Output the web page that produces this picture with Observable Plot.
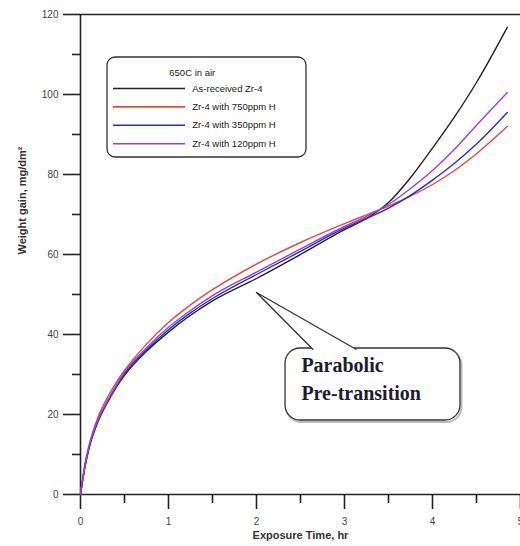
<!DOCTYPE html>
<html>
<head>
<meta charset="utf-8">
<script src="https://cdn.jsdelivr.net/npm/d3@7"></script>
<script src="https://cdn.jsdelivr.net/npm/@observablehq/plot@0.6"></script>
<style>
  html, body { margin: 0; padding: 0; background: #fff; }
  #chart svg { display: block; }
</style>
</head>
<body>
<div id="chart"></div>
<script>
// Exposure time (hr)
const time = [0, 0.05, 0.1, 0.2, 0.3, 0.4, 0.5, 0.75, 1, 1.25, 1.5, 2, 2.5, 3, 3.25, 3.5, 3.75, 4, 4.25, 4.5, 4.85];
// Weight gain (mg/dm²)
const asReceived = [0, 6.8, 11.8, 18.3, 22.8, 26.6, 29.8, 35.8, 40.6, 44.8, 48.4, 54, 60, 66.2, 69, 73, 79.2, 86.6, 94.4, 103, 116.8];
const h750 = [0, 7.6, 12.6, 19.4, 24, 27.8, 31, 37.6, 43, 47.4, 51.2, 57.6, 63, 67.7, 69.9, 72.1, 74.6, 77.5, 81, 85.2, 92];
const h350 = [0, 7, 12, 18.6, 22.9, 26.8, 30.2, 36.2, 41.2, 45.4, 49, 55, 60.8, 66.6, 69, 71.6, 74.8, 78.6, 82.8, 87.6, 95.5];
const h120 = [0, 7.2, 12.2, 18.8, 23.2, 27.1, 30.6, 36.7, 41.8, 46, 49.7, 55.6, 61.4, 67, 69.5, 72.5, 76.5, 81, 86.3, 92.3, 100.5];

const seriesNames = ["As-received Zr-4", "Zr-4 with 750ppm H", "Zr-4 with 350ppm H", "Zr-4 with 120ppm H"];
const seriesValues = [asReceived, h750, h350, h120];
const seriesColors = ["#222222", "#e5483f", "#2b2bd6", "#9a3fdc"];
const legendTitle = "650C in air";

const xMajor = [0, 1, 2, 3, 4, 5];
const xMinor = [0.5, 1.5, 2.5, 3.5, 4.5];
const yMajor = [0, 20, 40, 60, 80, 100, 120];
const yMinor = [10, 30, 50, 70, 90, 110];

const calloutLines = ["Parabolic", "Pre-transition"];

// tidy table
const data = [];
seriesNames.forEach((name, i) => {
  time.forEach((t, j) => data.push({series: name, t, w: seriesValues[i][j]}));
});

// legend layout (data units)
const legRows = seriesNames.map((name, i) => ({name, color: seriesColors[i], y: 101.5 - i * 4.6}));
// callout geometry (data units)
const tip = {t: 2.0, w: 50.5};
const baseL = {t: 2.64, w: 36.3};
const baseR = {t: 3.13, w: 36.3};

const font = "'Liberation Sans', Arial, sans-serif";

const chart = Plot.plot({
  width: 520,
  height: 546,
  marginLeft: 80,
  marginRight: 0,
  marginTop: 14,
  marginBottom: 52,
  style: {fontFamily: font, background: "#fff", overflow: "visible"},
  x: {domain: [0, 5]},
  y: {domain: [0, 120]},
  color: {domain: seriesNames, range: seriesColors},
  marks: [
    // axes
    Plot.axisY(yMajor, {tickSize: 17, tickPadding: 5, fontSize: 10, stroke: "#222", strokeWidth: 1.6, fill: "#444", label: null}),
    Plot.axisY(yMinor, {tickSize: 8, tickFormat: () => "", stroke: "#222", strokeWidth: 1.6, label: null}),
    Plot.axisX(xMajor, {tickSize: 15, tickPadding: 8, fontSize: 10, stroke: "#222", strokeWidth: 1.6, fill: "#444", label: null}),
    Plot.axisX(xMinor, {tickSize: 9, tickFormat: () => "", stroke: "#222", strokeWidth: 1.6, label: null}),
    Plot.ruleX([0], {stroke: "#222", strokeWidth: 1.6}),
    Plot.ruleY([0, 120], {stroke: "#222", strokeWidth: 1.6}),
    Plot.text(["Weight gain, mg/dm²"], {frameAnchor: "left", rotate: -90, dx: -58, fontSize: 11, fontWeight: "bold", fill: "#333"}),
    Plot.text(["Exposure Time, hr"], {frameAnchor: "bottom", dy: 44, fontSize: 11, fontWeight: "bold", fill: "#333"}),

    // curves
    Plot.line(data, {x: "t", y: "w", z: "series", stroke: "series", strokeWidth: 1.4, curve: "monotone-x"}),

    // legend
    Plot.rect([0], {x1: 0.307, x2: 2.568, y1: 84.25, y2: 109.25, rx: 8, fill: "#fff", stroke: "#333", strokeWidth: 1.3}),
    Plot.text([legendTitle], {x: 1.27, y: 105.3, fontSize: 9.5, fill: "#222"}),
    Plot.ruleY(legRows, {y: "y", x1: 0.375, x2: 1.193, stroke: "color", strokeWidth: 1.6}),
    Plot.text(legRows, {x: 1.27, y: "y", text: "name", textAnchor: "start", fontSize: 9.5, fill: "#222"}),

    // callout
    Plot.rect([0], {x1: 2.345, x2: 4.335, y1: 18.0, y2: 36.0, rx: 15, fill: "none", stroke: "#bbb", strokeWidth: 2}),
    Plot.rect([0], {x1: 2.33, x2: 4.318, y1: 18.5, y2: 36.5, rx: 15, fill: "#fff", stroke: "#333", strokeWidth: 1.3}),
    Plot.line([tip, baseL, baseR, tip], {x: "t", y: "w", fill: "#fff", stroke: "none"}),
    Plot.line([baseL, tip, baseR], {x: "t", y: "w", stroke: "#333", strokeWidth: 1.3, curve: "linear"}),
    Plot.text(calloutLines, {x: 2.51, y: (d, i) => 32.3 - i * 7.0, textAnchor: "start", fontFamily: "'Liberation Serif', 'Times New Roman', serif", fontWeight: "bold", fontSize: 20, fill: "#1c1c2c"})
  ]
});

document.getElementById("chart").appendChild(chart);
</script>
</body>
</html>
